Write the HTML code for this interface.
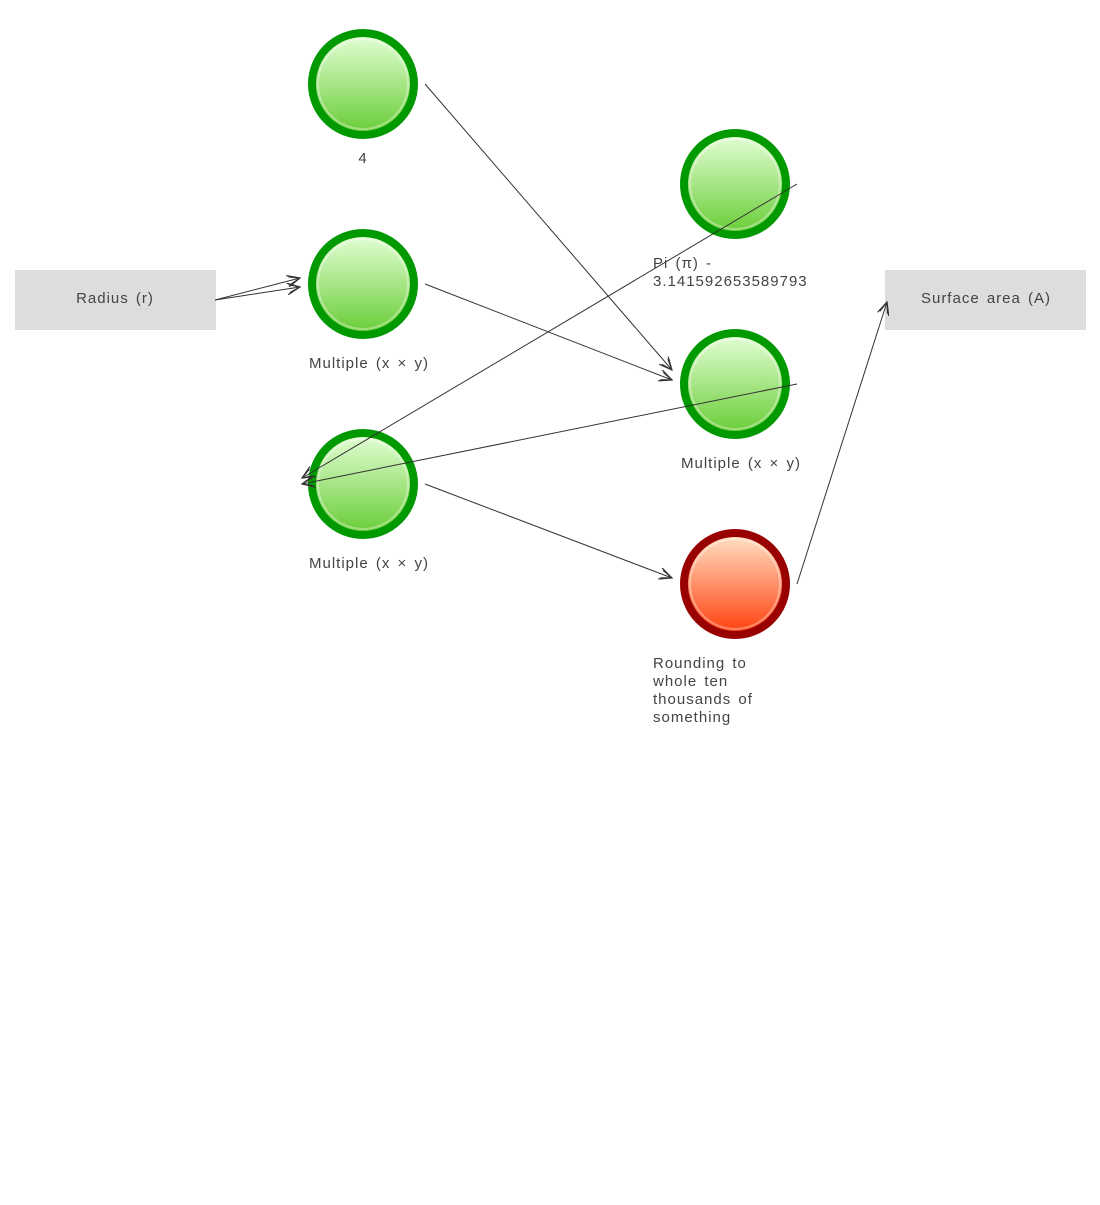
<!DOCTYPE html>
<html><head><style>
body{margin:0;background:#fff;}
svg text{font-family:"Liberation Sans",sans-serif;font-size:15px;fill:#444;letter-spacing:1px;word-spacing:2px}
</style></head><body>
<svg width="1100" height="1200" xmlns="http://www.w3.org/2000/svg">
<defs>
<linearGradient id="g" x1="0" y1="0" x2="0" y2="1"><stop offset="0" stop-color="#e6ffd9"/><stop offset="1" stop-color="#66cc33"/></linearGradient>
<linearGradient id="r" x1="0" y1="0" x2="0" y2="1"><stop offset="0" stop-color="#ffe4c8"/><stop offset="1" stop-color="#ff3d0a"/></linearGradient>
<marker id="a" markerWidth="14" markerHeight="12" refX="13" refY="6" orient="auto" markerUnits="userSpaceOnUse"><path d="M0,0 L13,6 L0,12 M2,2 L13,6 L2,10" fill="none" stroke="#333" stroke-width="1.2"/></marker>
</defs>
<rect x="15" y="270" width="201" height="60" fill="#dddddd"/>
<text x="115" y="303" text-anchor="middle">Radius (r)</text>
<rect x="885" y="270" width="201" height="60" fill="#dddddd"/>
<text x="986" y="303" text-anchor="middle">Surface area (A)</text>
<g stroke="#009900" stroke-width="8">
<circle cx="363" cy="84" r="51" fill="url(#g)"/>
<circle cx="363" cy="284" r="51" fill="url(#g)"/>
<circle cx="363" cy="484" r="51" fill="url(#g)"/>
<circle cx="735" cy="184" r="51" fill="url(#g)"/>
<circle cx="735" cy="384" r="51" fill="url(#g)"/>
</g>
<circle cx="735" cy="584" r="51" fill="url(#r)" stroke="#990000" stroke-width="8"/>
<g fill="none" stroke="#ffffff" stroke-opacity="0.35" stroke-width="2">
<circle cx="363" cy="84" r="45"/><circle cx="363" cy="284" r="45"/><circle cx="363" cy="484" r="45"/>
<circle cx="735" cy="184" r="45"/><circle cx="735" cy="384" r="45"/><circle cx="735" cy="584" r="45"/>
</g>
<text x="363" y="163" text-anchor="middle">4</text>
<text x="309" y="368">Multiple (x × y)</text>
<text x="309" y="568">Multiple (x × y)</text>
<text x="653" y="268">Pi (π) -</text>
<text x="653" y="286">3.141592653589793</text>
<text x="681" y="468">Multiple (x × y)</text>
<text x="653" y="668">Rounding to</text>
<text x="653" y="686">whole ten</text>
<text x="653" y="704">thousands of</text>
<text x="653" y="722">something</text>
<g stroke="#333" stroke-width="1" fill="none" marker-end="url(#a)">
<line x1="215" y1="300" x2="300" y2="278"/>
<line x1="215" y1="300" x2="300" y2="287"/>
<line x1="425" y1="84" x2="672" y2="370"/>
<line x1="425" y1="284" x2="672" y2="380"/>
<line x1="797" y1="184" x2="302" y2="478"/>
<line x1="797" y1="384" x2="302" y2="484"/>
<line x1="425" y1="484" x2="672" y2="578"/>
<line x1="797" y1="584" x2="887" y2="302"/>
</g>
</svg>
</body></html>
